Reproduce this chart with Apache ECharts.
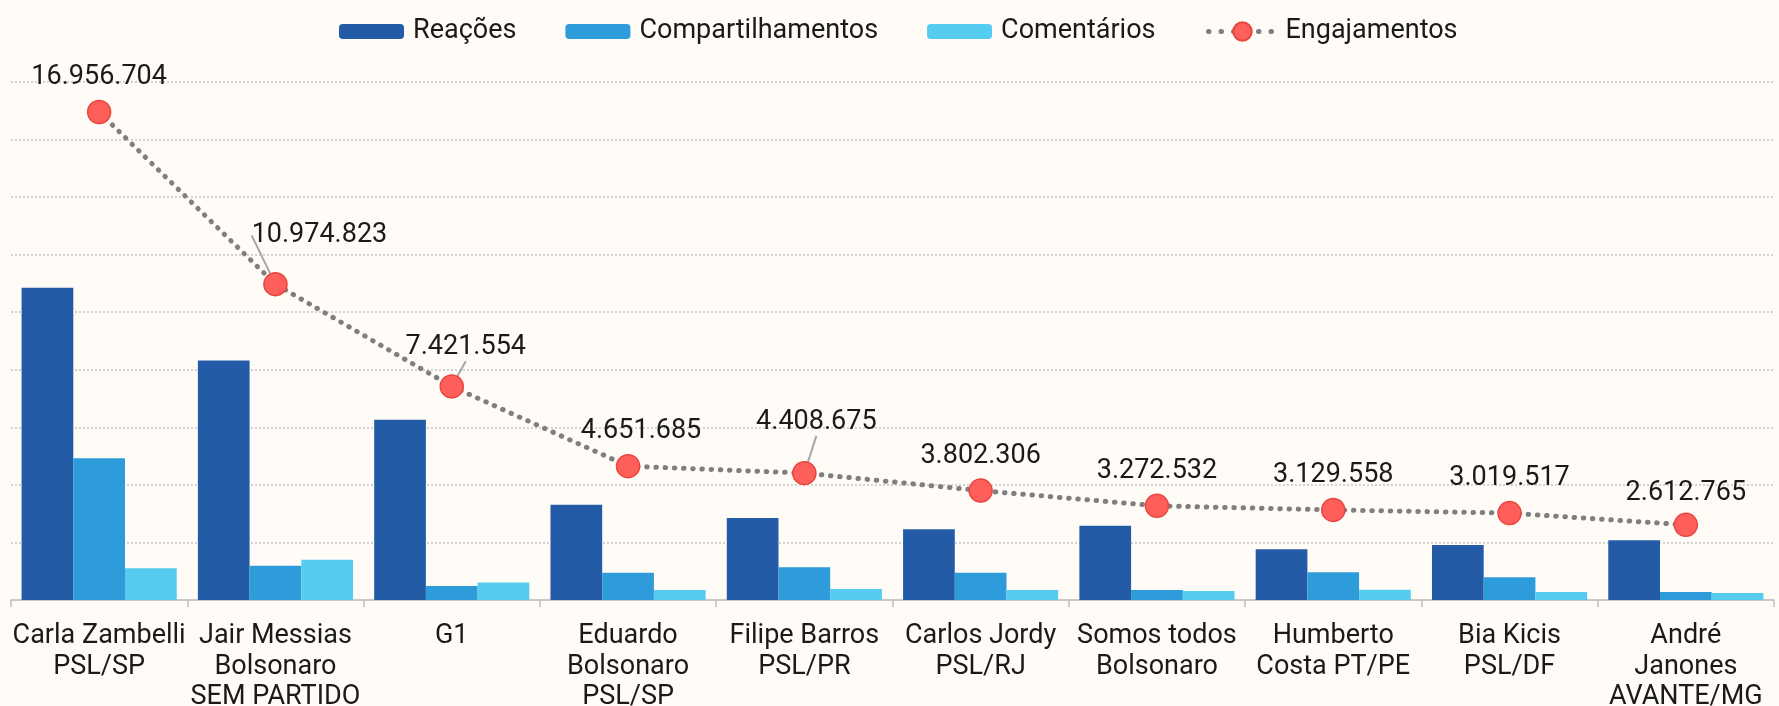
<!DOCTYPE html>
<html>
<head>
<meta charset="utf-8">
<script src="https://cdn.jsdelivr.net/npm/echarts@6/dist/echarts.min.js"></script>
<style>
  html, body { margin: 0; padding: 0; background: #fffcf7; }
  #chart { width: 1779px; height: 706px; }
</style>
</head>
<body>
<div id="chart"></div>
<script>
// categorias (perfis)
const categorias = [
  'Carla Zambelli\nPSL/SP',
  'Jair Messias\nBolsonaro\nSEM PARTIDO',
  'G1',
  'Eduardo\nBolsonaro\nPSL/SP',
  'Filipe Barros\nPSL/PR',
  'Carlos Jordy\nPSL/RJ',
  'Somos todos\nBolsonaro',
  'Humberto\nCosta PT/PE',
  'Bia Kicis\nPSL/DF',
  'André\nJanones\nAVANTE/MG'
];

// valores estimados a partir da imagem
const reacoes = [10850000, 8320000, 6260000, 3310000, 2850000, 2460000, 2580000, 1760000, 1910000, 2080000];
const compartilhamentos = [4930000, 1190000, 490000, 950000, 1140000, 950000, 350000, 960000, 790000, 280000];
const comentarios = [1100000, 1400000, 610000, 350000, 380000, 350000, 310000, 360000, 280000, 240000];
const engajamentos = [16956704, 10974823, 7421554, 4651685, 4408675, 3802306, 3272532, 3129558, 3019517, 2612765];

const fonte = 'Roboto, "Noto Sans", sans-serif';

// rótulos deslocados (com linha guia) em alguns pontos
const deslocamentos = {
  1: { dx: 44, dy: -14 },
  2: { dx: 14, dy: -4 },
  3: { dx: 13, dy: 0 },
  4: { dx: 12, dy: -16 },
  9: { dx: 0, dy: 3 }
};
const comLinhaGuia = [1, 2, 4];

const formatarNumero = (v) => String(v).replace(/\B(?=(\d{3})+(?!\d))/g, '.');

const chart = echarts.init(document.getElementById('chart'), null, { renderer: 'canvas' });

const barra = (nome, dados, cor) => ({
  name: nome,
  type: 'bar',
  data: dados,
  barGap: '0%',
  barCategoryGap: '12%',
  itemStyle: { color: cor },
  emphasis: { disabled: true }
});

const estiloLegenda = {
  fontSize: 27,
  color: '#1a1a1a',
  fontFamily: fonte,
  padding: [0, 0, 0, 4]
};

chart.setOption({
  backgroundColor: '#fffcf7',
  textStyle: { fontFamily: fonte },
  animation: false,
  legend: [
    {
      top: 18,
      left: 339,
      padding: 0,
      itemWidth: 65,
      itemHeight: 15,
      itemGap: 49,
      textStyle: estiloLegenda,
      data: ['Reações', 'Compartilhamentos', 'Comentários']
    },
    {
      top: 18,
      left: 1206,
      padding: 0,
      itemWidth: 68,
      itemHeight: 23,
      textStyle: estiloLegenda,
      lineStyle: { color: '#7f7f7f', width: 5, type: [0.5, 12], cap: 'round' },
      data: ['Engajamentos']
    }
  ],
  grid: { left: 11, right: 5, top: 82, bottom: 106, containLabel: false, outerBoundsMode: 'none' },
  xAxis: {
    type: 'category',
    data: categorias,
    axisLine: { lineStyle: { color: '#bfbfbf', width: 1.5 } },
    axisTick: { show: true, length: 7, lineStyle: { color: '#bfbfbf', width: 1.5 } },
    axisLabel: {
      interval: 0,
      margin: 21,
      fontSize: 27,
      lineHeight: 30.5,
      color: '#1a1a1a',
      fontFamily: fonte
    }
  },
  yAxis: {
    type: 'value',
    min: 0,
    max: 18000000,
    interval: 2000000,
    axisLabel: { show: false },
    axisLine: { show: false },
    axisTick: { show: false },
    splitLine: { lineStyle: { color: '#c4c4c4', width: 1.5, type: [2, 2] } }
  },
  series: [
    barra('Reações', reacoes, '#245ba7'),
    barra('Compartilhamentos', compartilhamentos, '#2e9cda'),
    barra('Comentários', comentarios, '#56cbf0'),
    {
      name: 'Engajamentos',
      type: 'line',
      data: engajamentos.map((v, i) => ({
        value: v,
        labelLine: { show: comLinhaGuia.includes(i) }
      })),
      symbol: 'circle',
      symbolSize: 23,
      itemStyle: { color: '#ff5f5a', borderColor: '#e8453f', borderWidth: 1.5 },
      lineStyle: { color: '#7f7f7f', width: 5, type: [0.5, 8.7], cap: 'round' },
      label: {
        show: true,
        position: 'top',
        distance: 9,
        fontSize: 27,
        color: '#1a1a1a',
        fontFamily: fonte,
        formatter: (p) => formatarNumero(p.value)
      },
      labelLine: { length2: 0, lineStyle: { color: '#a6a6a6', width: 2 } },
      labelLayout: (p) => deslocamentos[p.dataIndex] || {},
      emphasis: { disabled: true },
      z: 5
    }
  ]
});

window.addEventListener('resize', () => chart.resize());
</script>
</body>
</html>
